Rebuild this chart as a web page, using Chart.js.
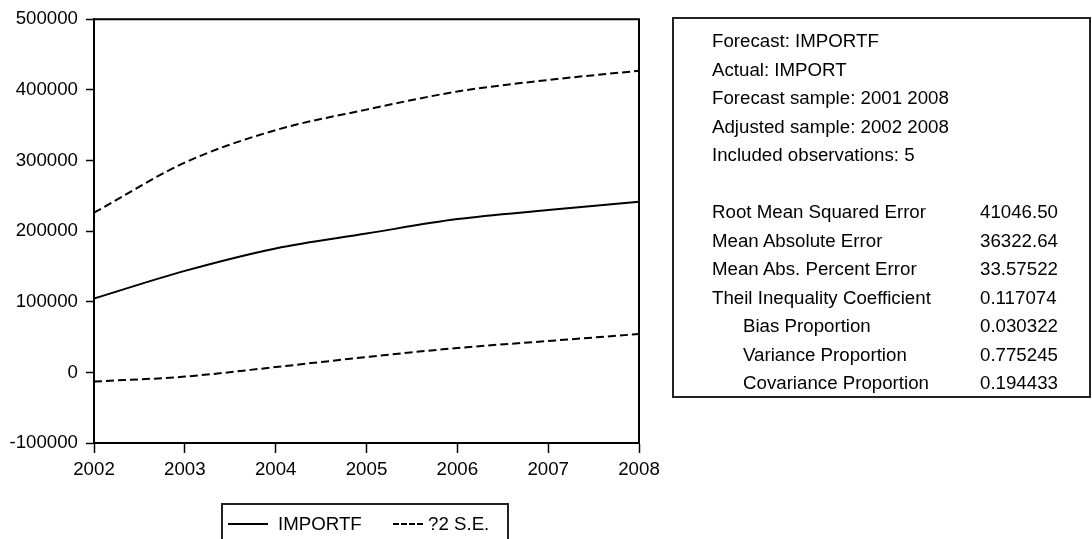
<!DOCTYPE html>
<html>
<head>
<meta charset="utf-8">
<script src="https://cdn.jsdelivr.net/npm/chart.js@4.4.0/dist/chart.umd.min.js"></script>
<style>
  body { margin: 0; background: #fff; overflow: hidden; }
  #wrap { position: relative; width: 1092px; height: 539px; font-family: "Liberation Sans", Arial, sans-serif; color: #000; }
  #stats { position: absolute; left: 672px; top: 17px; width: 419px; height: 381px; border: 2px solid #222; box-sizing: border-box; font-size: 18.7px; }
  #stats .row { position: absolute; left: 38px; height: 28px; line-height: 28px; white-space: nowrap; }
  #stats .row.sub { left: 69px; }
  #stats .val { position: absolute; left: 306px; height: 28px; line-height: 28px; white-space: nowrap; }
  #legend { position: absolute; left: 221px; top: 503px; width: 288px; height: 60px; border: 2px solid #222; box-sizing: border-box; font-size: 18.7px; }
  #legend .item { position: absolute; top: 5px; height: 28px; line-height: 28px; white-space: nowrap; }
  #legend .swatch { position: absolute; top: 18px; height: 0; }
</style>
</head>
<body>
<div id="wrap">
  <canvas id="chart" width="1092" height="539"></canvas>
  <div id="stats"></div>
  <div id="legend"></div>
</div>
<script>
// series
const years = ['2002', '2003', '2004', '2005', '2006', '2007', '2008'];
const importf = [104500, 143700, 175500, 196500, 217000, 229800, 241600];
const upperSE = [226000, 297000, 343000, 372000, 397600, 414000, 427000];
const lowerSE = [-13000, -6000, 7500, 21700, 34500, 44400, 54300];

const yTicks = [-100000, 0, 100000, 200000, 300000, 400000, 500000];

// forecast evaluation table
const headerLines = [
  'Forecast: IMPORTF',
  'Actual: IMPORT',
  'Forecast sample: 2001 2008',
  'Adjusted sample: 2002 2008',
  'Included observations: 5'
];
const statLabels = [
  'Root Mean Squared Error',
  'Mean Absolute Error',
  'Mean Abs. Percent Error',
  'Theil Inequality Coefficient',
  'Bias Proportion',
  'Variance Proportion',
  'Covariance Proportion'
];
const statIndent = [false, false, false, false, true, true, true];
const statValues = ['41046.50', '36322.64', '33.57522', '0.117074', '0.030322', '0.775245', '0.194433'];

const FONT = { family: '"Liberation Sans", Arial, sans-serif', size: 18.7 };

// top and right edges of the plot frame
const frame = {
  id: 'frame',
  afterDraw(chart) {
    const { ctx, chartArea: a } = chart;
    ctx.save();
    ctx.strokeStyle = '#000';
    ctx.lineWidth = 2;
    ctx.beginPath();
    ctx.moveTo(a.left, a.top);
    ctx.lineTo(a.right, a.top);
    ctx.lineTo(a.right, a.bottom);
    ctx.stroke();
    ctx.restore();
  }
};

const lineStyle = { borderColor: '#000', borderWidth: 2, pointRadius: 0, cubicInterpolationMode: 'monotone' };

const chart = new Chart(document.getElementById('chart'), {
  type: 'line',
  data: {
    labels: years,
    datasets: [
      { label: 'IMPORTF', data: importf, ...lineStyle },
      { label: '?2 S.E.', data: upperSE, ...lineStyle, borderDash: [8, 4] },
      { label: '?2 S.E.', data: lowerSE, ...lineStyle, borderDash: [8, 4] }
    ]
  },
  options: {
    responsive: false,
    animation: false,
    layout: { padding: { left: 0, top: 18, right: 453, bottom: 0 } },
    plugins: { legend: { display: false }, tooltip: { enabled: false } },
    scales: {
      x: {
        type: 'category',
        offset: false,
        grid: { display: true, offset: false, drawOnChartArea: false, drawTicks: true, tickLength: 10, tickWidth: 1.5, tickColor: '#000' },
        border: { display: true, color: '#000', width: 2 },
        ticks: { color: '#000', font: FONT, padding: 6, maxRotation: 0, autoSkip: false },
        afterFit(scale) { scale.height = 96; }
      },
      y: {
        min: -100000,
        max: 500000,
        afterBuildTicks(scale) { scale.ticks = yTicks.map(v => ({ value: v })); },
        grid: { display: true, drawOnChartArea: false, drawTicks: true, tickLength: 8, tickWidth: 1.5, tickColor: '#000' },
        border: { display: true, color: '#000', width: 2 },
        ticks: { color: '#000', font: FONT, padding: 8, callback: v => String(v) },
        afterFit(scale) { scale.width = 94; }
      }
    }
  },
  plugins: [frame]
});

// evaluation table
const stats = document.getElementById('stats');
const rowH = 28.5;
const firstTop = 8;
headerLines.forEach((t, i) => {
  const d = document.createElement('div');
  d.className = 'row';
  d.style.top = (firstTop + i * rowH) + 'px';
  d.textContent = t;
  stats.appendChild(d);
});
statLabels.forEach((t, i) => {
  const top = firstTop + (headerLines.length + 1 + i) * rowH;
  const d = document.createElement('div');
  d.className = statIndent[i] ? 'row sub' : 'row';
  d.style.top = top + 'px';
  d.textContent = t;
  stats.appendChild(d);
  const v = document.createElement('div');
  v.className = 'val';
  v.style.top = top + 'px';
  v.textContent = statValues[i];
  stats.appendChild(v);
});

// legend
const legend = document.getElementById('legend');
legend.innerHTML =
  '<div class="swatch" style="left:5px;width:40px;border-top:2px solid #000"></div>' +
  '<div class="item" style="left:55px">' + chart.data.datasets[0].label + '</div>' +
  '<div class="swatch" style="left:170px;width:30px;border-top:2px dashed #000"></div>' +
  '<div class="item" style="left:205px">' + chart.data.datasets[1].label + '</div>';
</script>
</body>
</html>
